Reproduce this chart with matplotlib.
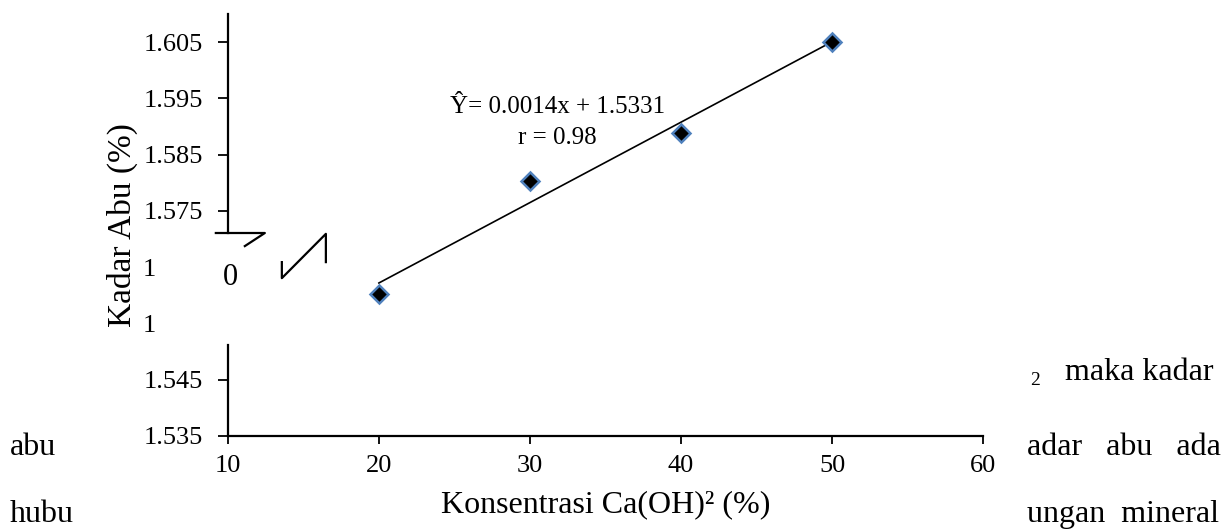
import numpy as np
import matplotlib
matplotlib.use("Agg")
import matplotlib.pyplot as plt
from matplotlib.lines import Line2D

plt.rcParams["font.family"] = ["Liberation Serif", "DejaVu Serif"]

# data
conc = [20, 30, 40, 50]
kadar_abu = [1.5602, 1.5804, 1.5889, 1.6050]
x_ticks = [10, 20, 30, 40, 50, 60]
y_ticks = [1.535, 1.545, 1.555, 1.565, 1.575, 1.585, 1.595, 1.605]
y_labels = ["1.535", "1.545", "1       ", "1       ", "1.575", "1.585", "1.595", "1.605"]
eq_text = "\u0176= 0.0014x + 1.5331"
r_text = "r = 0.98"


def main():
    fig = plt.figure(figsize=(12.25, 5.32), dpi=100)
    ax = fig.add_axes([0.186, 0.1805, 0.6165, 0.7932])

    # trend line from a least squares fit
    slope, icpt = np.polyfit(conc, kadar_abu, 1)
    xs = np.array([min(conc), max(conc)])
    ax.plot(xs, slope * xs + icpt, color="black", lw=1.2, zorder=2)
    ax.plot(conc, kadar_abu, linestyle="none", marker="D", ms=9,
            mfc="black", mec="#4f81bd", mew=1.8, zorder=3)

    ax.set_xlim(10, 60)
    ax.set_ylim(1.535, 1.61)
    ax.set_xticks(x_ticks)
    ax.set_yticks(y_ticks)
    ax.set_yticklabels(y_labels)
    ax.tick_params(axis="both", labelsize=19, width=1.3, color="black")
    ax.tick_params(axis="y", length=7, pad=11)
    ax.tick_params(axis="x", length=5.5, pad=8)
    for i in (2, 3):
        ax.yaxis.get_major_ticks()[i].tick1line.set_visible(False)

    for s in ("top", "right", "left"):
        ax.spines[s].set_visible(False)
    ax.spines["bottom"].set_linewidth(1.6)

    # broken y axis line
    kw = dict(transform=ax.transAxes, color="black", lw=1.6, clip_on=False)
    ax.add_line(Line2D([0, 0], [1, 0.481], **kw))
    ax.add_line(Line2D([0, 0], [0.215, 0], **kw))
    ax.add_line(Line2D([-0.0159, 0.049, 0.0225], [0.481, 0.481, 0.450], **kw))
    ax.add_line(Line2D([0.0715, 0.0715, 0.1298, 0.1298],
                       [0.412, 0.374, 0.479, 0.412], **kw))
    ax.text(0.003, 0.375, "0", transform=ax.transAxes, fontsize=22,
            ha="center", va="center")

    ax.set_ylabel("Kadar Abu (%)", fontsize=24, labelpad=4)
    ax.set_xlabel("Konsentrasi Ca(OH)\u00b2 (%)", fontsize=23, labelpad=10)

    ax.text(31.8, 1.5935, eq_text, fontsize=18, ha="center", va="center")
    ax.text(31.8, 1.5880, r_text, fontsize=18, ha="center", va="center")

    # body text of the page around the chart
    fs = 23
    fig.text(1065 / 1225, 1 - 380 / 532, "maka kadar", fontsize=fs, va="baseline")
    fig.text(1030 / 1225, 1 - 385 / 532, "2", fontsize=14, va="baseline")
    fig.text(1027 / 1225, 1 - 455 / 532, "adar   abu   ada", fontsize=fs, va="baseline")
    fig.text(1027 / 1225, 1 - 522 / 532, "ungan  mineral", fontsize=fs, va="baseline")
    fig.text(10 / 1225, 1 - 455 / 532, "abu", fontsize=fs, va="baseline")
    fig.text(10 / 1225, 1 - 522 / 532, "hubu", fontsize=fs, va="baseline")

    fig.savefig("out.png", dpi=100)


main()
